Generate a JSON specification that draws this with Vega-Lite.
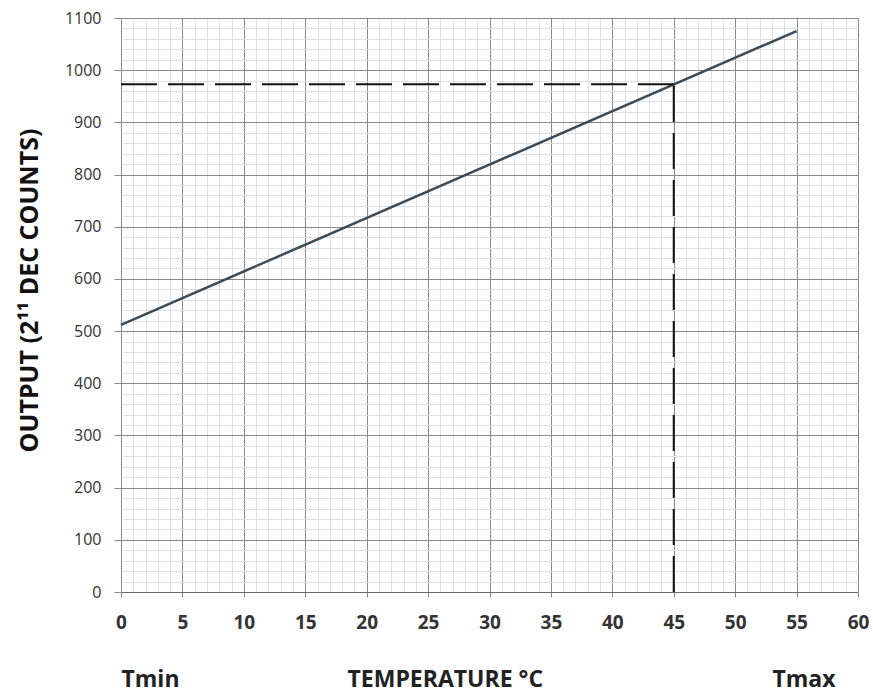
{
  "$schema": "https://vega.github.io/schema/vega-lite/v6.json",
  "autosize": "none",
  "width": 737,
  "height": 574,
  "padding": {"left": 121, "top": 18, "right": 15, "bottom": 106},
  "background": "white",
  "config": {
    "view": {"stroke": null},
    "axis": {"labelFont": "Open Sans", "titleFont": "Open Sans"}
  },
  "datasets": {
    "output": [
      {"temp": 0, "count": 512},
      {"temp": 55, "count": 1075}
    ],
    "guide": [
      {"seg": "h", "temp": 0, "count": 973},
      {"seg": "h", "temp": 45, "count": 973},
      {"seg": "v", "temp": 45, "count": 0},
      {"seg": "v", "temp": 45, "count": 973}
    ],
    "labels": [
      {"temp": 2.4, "text": "Tmin"},
      {"temp": 26.4, "text": "TEMPERATURE °C"},
      {"temp": 55.6, "text": "Tmax"}
    ]
  },
  "resolve": {"axis": {"x": "independent", "y": "independent"}},
  "layer": [
    {
      "data": {"name": "output"},
      "mark": {"type": "line", "opacity": 0},
      "encoding": {
        "x": {"field": "temp", "type": "quantitative", "scale": {"domain": [0, 60], "nice": false},
          "axis": {"orient": "bottom", "values": [1,2,3,4,6,7,8,9,11,12,13,14,16,17,18,19,21,22,23,24,26,27,28,29,31,32,33,34,36,37,38,39,41,42,43,44,46,47,48,49,51,52,53,54,56,57,58,59], "grid": true, "gridColor": "#e0e0e0", "gridWidth": 1, "labels": false, "ticks": false, "domain": false, "title": null}},
        "y": {"field": "count", "type": "quantitative", "scale": {"domain": [0, 1100], "nice": false},
          "axis": {"orient": "left", "values": [20,40,60,80,120,140,160,180,220,240,260,280,320,340,360,380,420,440,460,480,520,540,560,580,620,640,660,680,720,740,760,780,820,840,860,880,920,940,960,980,1020,1040,1060,1080], "grid": true, "gridColor": "#e0e0e0", "gridWidth": 1, "labels": false, "ticks": false, "domain": false, "title": null}}
      }
    },
    {
      "data": {"name": "output"},
      "mark": {"type": "line", "color": "#3b4b57", "strokeWidth": 2.5},
      "encoding": {
        "x": {"field": "temp", "type": "quantitative", "scale": {"domain": [0, 60], "nice": false},
          "axis": {"orient": "bottom", "values": [0,5,10,15,20,25,30,35,40,45,50,55,60], "format": "d", "labelFlush": false, "grid": true, "gridColor": "#8a8a8a", "gridWidth": 1, "tickColor": "#8a8a8a", "tickSize": 5, "domainColor": "#6a6a6a", "labelFontSize": 19, "labelFontWeight": "bold", "labelColor": "#333333", "labelPadding": 16, "title": null}},
        "y": {"field": "count", "type": "quantitative", "scale": {"domain": [0, 1100], "nice": false},
          "axis": {"orient": "left", "values": [0,100,200,300,400,500,600,700,800,900,1000,1100], "format": "d", "labelFlush": false, "grid": true, "gridColor": "#8a8a8a", "gridWidth": 1, "tickColor": "#8a8a8a", "tickSize": 7, "domain": false, "labelFontSize": 16, "labelColor": "#333333", "labelPadding": 13,
            "title": "OUTPUT (2¹¹ DEC COUNTS)", "titleFontSize": 25, "titleFontWeight": "bold", "titleColor": "#111111", "titlePadding": 22, "titleY": 272}}
      }
    },
    {
      "data": {"name": "guide"},
      "mark": {"type": "line", "color": "#111111", "strokeWidth": 2, "strokeDash": [36, 11]},
      "encoding": {
        "x": {"field": "temp", "type": "quantitative", "axis": null},
        "y": {"field": "count", "type": "quantitative", "axis": null},
        "detail": {"field": "seg"}
      }
    },
    {
      "data": {"name": "labels"},
      "mark": {"type": "text", "font": "Open Sans", "fontSize": 23, "fontWeight": "bold", "color": "#222222", "dy": 88, "baseline": "middle", "align": "center"},
      "encoding": {
        "x": {"field": "temp", "type": "quantitative", "axis": null},
        "y": {"datum": 0, "axis": null},
        "text": {"field": "text"}
      }
    }
  ]
}
